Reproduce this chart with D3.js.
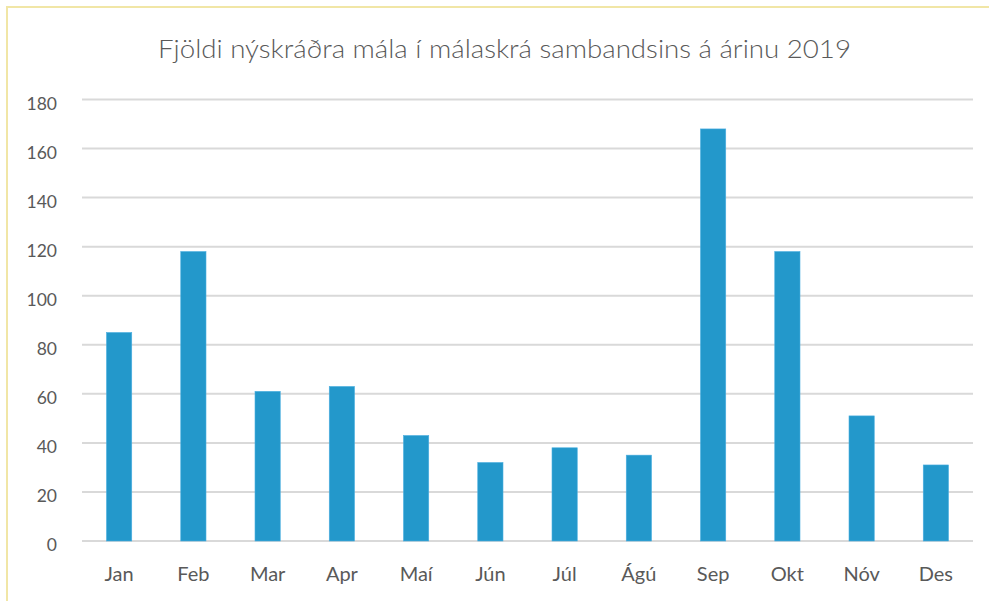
<!DOCTYPE html>
<meta charset="utf-8">
<title>Fjöldi nýskráðra mála</title>
<style>
  body { margin: 0; background: #fff; }
  text { font-family: Lato, "Open Sans", sans-serif; fill: #595959; }
</style>
<div id="viz"></div>
<script src="https://cdnjs.cloudflare.com/ajax/libs/d3/7.8.5/d3.min.js"></script>
<script>

var titleText = "Fjöldi nýskráðra mála í málaskrá sambandsins á árinu 2019";
var months = ["Jan", "Feb", "Mar", "Apr", "Maí", "Jún", "Júl", "Ágú", "Sep", "Okt", "Nóv", "Des"];
var counts = [85, 118, 61, 63, 43, 32, 38, 35, 168, 118, 51, 31];
var yTicks = [0, 20, 40, 60, 80, 100, 120, 140, 160, 180];

var width = 989;
var height = 601;
var plotLeft = 82, plotRight = 973, plotTop = 99.5, plotBottom = 541;

var svg = d3.select("#viz")
  .append("svg")
  .attr("width", width)
  .attr("height", height);

// frame (only top + left edge show in the picture)
svg.append("rect")
  .attr("x", 7).attr("y", 7)
  .attr("width", 1000).attr("height", 620)
  .attr("fill", "none")
  .attr("stroke", "#f1e6a6")
  .attr("stroke-width", 2);

svg.append("text")
  .attr("x", 504.5)
  .attr("y", 58)
  .attr("text-anchor", "middle")
  .attr("font-size", 26)
  .attr("font-weight", 300)
  .attr("textLength", 693)
  .attr("lengthAdjust", "spacingAndGlyphs")
  .text(titleText);

var x = d3.scaleBand()
  .domain(months)
  .range([plotLeft, plotRight])
  .paddingInner(0.66)
  .paddingOuter(0.33);

var y = d3.scaleLinear()
  .domain([0, 180])
  .range([plotBottom, plotTop]);

// gridlines
svg.append("g")
  .selectAll("line")
  .data(yTicks)
  .join("line")
  .attr("x1", plotLeft)
  .attr("x2", plotRight)
  .attr("y1", d => y(d))
  .attr("y2", d => y(d))
  .attr("stroke", "#d9d9d9")
  .attr("stroke-width", 2);

// y axis labels
var yAxis = d3.axisLeft(y).tickValues(yTicks).tickSize(0).tickPadding(0);
var ya = svg.append("g")
  .attr("transform", "translate(57,0)")
  .call(yAxis);
ya.select(".domain").remove();
ya.selectAll("text")
  .attr("font-size", 17.5)
  .attr("font-family", "Lato, sans-serif")
  .attr("fill", "#595959")
  .attr("dy", "0.55em");

// bars
svg.append("g")
  .selectAll("rect")
  .data(counts)
  .join("rect")
  .attr("x", (d, i) => x(months[i]))
  .attr("width", x.bandwidth())
  .attr("y", d => y(d))
  .attr("height", d => y(0) - y(d))
  .attr("fill", "#2398cb")
  .attr("stroke", "#4aaee0")
  .attr("stroke-width", 0.6);

// x axis labels
var xAxis = d3.axisBottom(x).tickSize(0).tickPadding(0);
var xa = svg.append("g")
  .attr("transform", "translate(0,567)")
  .call(xAxis);
xa.select(".domain").remove();
xa.selectAll("text")
  .attr("font-size", 20)
  .attr("font-family", "Lato, sans-serif")
  .attr("fill", "#595959");

</script>
